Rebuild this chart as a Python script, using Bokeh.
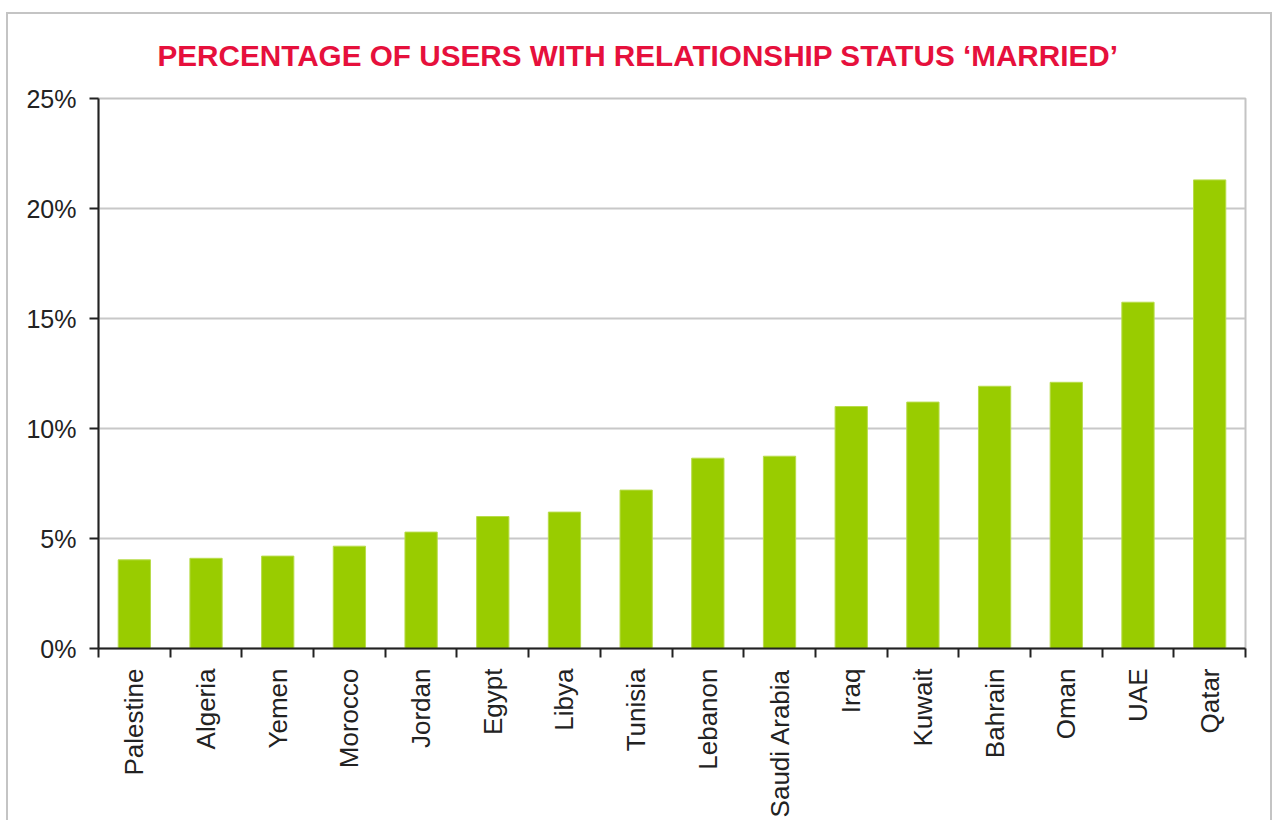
import math
from bokeh.plotting import figure
from bokeh.models import FixedTicker, PrintfTickFormatter, Title, Range1d
from bokeh.embed import file_html
from bokeh.resources import INLINE

countries = ["Palestine", "Algeria", "Yemen", "Morocco", "Jordan", "Egypt", "Libya",
             "Tunisia", "Lebanon", "Saudi Arabia", "Iraq", "Kuwait", "Bahrain", "Oman",
             "UAE", "Qatar"]
married_pct = [4.03, 4.1, 4.2, 4.65, 5.29, 6.0, 6.2, 7.2, 8.65, 8.74, 11.0, 11.2,
               11.92, 12.1, 15.74, 21.3]
y_ticks = [0, 5, 10, 15, 20, 25]
title_text = "PERCENTAGE OF USERS WITH RELATIONSHIP STATUS \u2018MARRIED\u2019"

FONT = "Liberation Sans"
positions = list(range(1, len(countries) + 1))

p = figure(width=1274, height=820, output_backend="svg", toolbar_location=None,
           x_range=Range1d(0.5, len(countries) + 0.5), y_range=Range1d(0, 25),
           min_border_left=98, min_border_top=98, min_border_right=29,
           min_border_bottom=172, background_fill_color="white",
           border_fill_color=None)

# outer chart border drawn as the page background behind the transparent canvas border
g = "linear-gradient(#C4C4C4, #C4C4C4)"
p.styles = {
    "background-color": "white",
    "background-image": f"{g}, {g}, {g}",
    "background-position": "6px 12px, 6px 12px, 1270px 12px",
    "background-size": "1266px 2px, 2px 900px, 2px 900px",
    "background-repeat": "no-repeat",
}

p.title = Title(text=title_text, align="left", offset=59, text_font=FONT,
                text_font_size="29.7px", text_font_style="bold", text_color="#E6103C",
                standoff=53)

p.vbar(x=positions, top=married_pct, width=0.45, fill_color="#99CC00",
       line_color="#B8DC4A", line_width=1)

p.outline_line_color = "#C4C4C4"
p.outline_line_width = 2

# x axis
xa = p.xaxis[0]
xa.ticker = FixedTicker(ticks=positions,
                        minor_ticks=[i + 0.5 for i in range(0, len(countries) + 1)])
xa.major_label_overrides = {pos: c for pos, c in zip(positions, countries)}
xa.major_label_orientation = math.pi / 2
xa.major_tick_out = 0
xa.major_tick_in = 0
xa.minor_tick_out = 9
xa.minor_tick_in = 0
xa.minor_tick_line_color = "#222222"
xa.minor_tick_line_width = 2
xa.axis_line_color = "#222222"
xa.axis_line_width = 2
xa.major_label_standoff = 11
xa.major_label_text_font = FONT
xa.major_label_text_font_size = "26px"
xa.major_label_text_color = "#222222"

# y axis
ya = p.yaxis[0]
ya.ticker = FixedTicker(ticks=y_ticks)
ya.formatter = PrintfTickFormatter(format="%d%%")
ya.major_tick_out = 9
ya.major_tick_in = 0
ya.minor_tick_line_color = None
ya.major_tick_line_color = "#222222"
ya.major_tick_line_width = 2
ya.axis_line_color = "#222222"
ya.axis_line_width = 2
ya.major_label_standoff = 13
ya.major_label_text_font = FONT
ya.major_label_text_font_size = "25px"
ya.major_label_text_color = "#222222"

p.xgrid.grid_line_color = None
p.ygrid.ticker = FixedTicker(ticks=y_ticks)
p.ygrid.grid_line_color = "#C8C8C8"
p.ygrid.grid_line_width = 2

open("out.html", "w").write(file_html(p, INLINE))
